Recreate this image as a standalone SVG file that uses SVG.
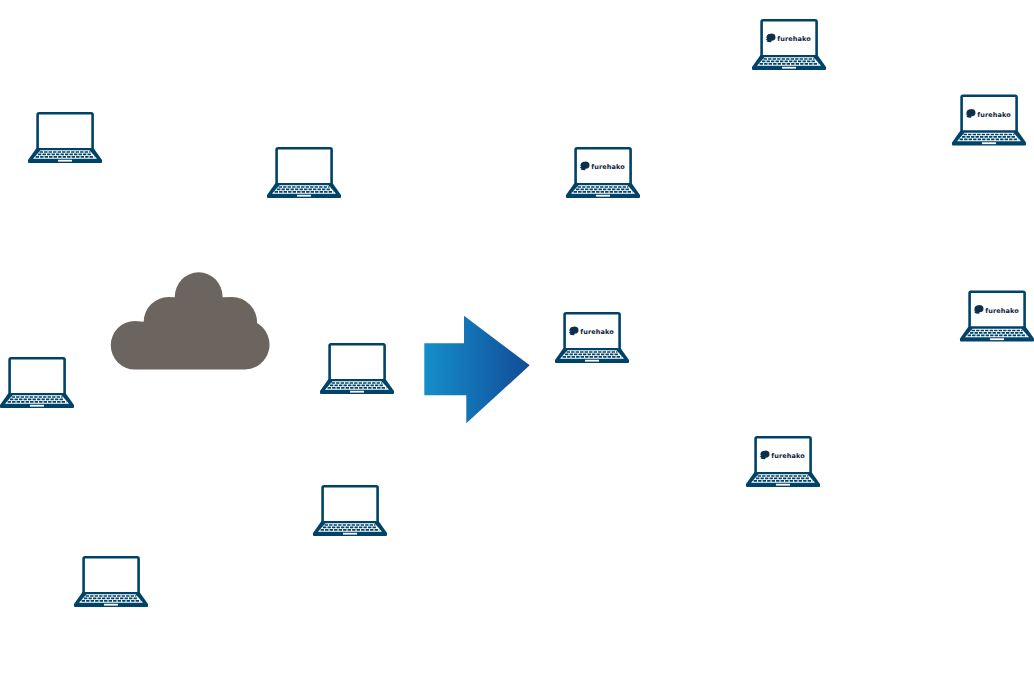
<svg xmlns="http://www.w3.org/2000/svg" width="1034" height="684" viewBox="0 0 1034 684">
<style>
.scr{fill:#fff;stroke:#004368;stroke-width:2.6}
.base{fill:#004368}
.kbd{fill:#fff}
.key{fill:none;stroke:#004368;stroke-width:1.600;stroke-dasharray:3.400 1.100}
.pad{fill:#fff}
.brand{font-family:"DejaVu Sans","Liberation Sans",sans-serif;font-weight:700;font-size:6.500px;fill:#0c2340}
.bub{fill:#0c2f4f}
</style>
<defs>
<linearGradient id="g" x1="0" y1="0" x2="1" y2="0"><stop offset="0" stop-color="#148fca"/><stop offset="1" stop-color="#134b97"/></linearGradient>
<g id="laptop">
<rect class="scr" x="9.600" y="1.300" width="55" height="36" rx="1.500"/>
<path class="base" d="M8.500 36H65.500L74 48V50Q74 51 73 51H1Q0 51 0 50V48Z"/>
<path class="kbd" d="M12.500 38.300H61.500L69 46.800H5Z"/>
<path class="key" d="M11.600 40H62.400M10 42.400H64M7.600 44.900H66.400"/>
<rect class="pad" x="30" y="47.800" width="14" height="1.800"/>
</g>
<g id="logo">
<path class="bub" d="M14.500 18.300a4.500 3.600 0 1 1 5 3.500l-.3 1.500-3.200-.3-1.700-1 1.200-.7-2-1 1.800-.5-1-.8z"/>
<text class="brand" x="25.300" y="22" textLength="33.400" lengthAdjust="spacing">furehako</text>
</g>
</defs>
<g id="connectors"/>
<g id="cloud"><path fill="#6c645e" d="M135 369.500A24.200 24.200 0 0 1 135 321L143.700 321.800A25 25 0 0 1 168.500 297L174.700 297.300A24 25 0 0 1 222.700 297.300L232 297A25 25 0 0 1 257 323A24.900 24.900 0 0 1 245 369.500Z"/></g>
<g id="arrow"><path fill="url(#g)" d="M424.300 343.300H464V315.700L529.700 365.300 466.300 423.300V395.300H424.300Z"/></g>
<g id="pc1"><use href="#laptop" x="28" y="112"/></g>
<g id="pc2"><use href="#laptop" x="267" y="147"/></g>
<g id="pc3"><use href="#laptop" x="0" y="357"/></g>
<g id="pc4"><use href="#laptop" x="320" y="343"/></g>
<g id="pc5"><use href="#laptop" x="313" y="485"/></g>
<g id="pc6"><use href="#laptop" x="74" y="556"/></g>
<g id="fh1"><use href="#laptop" x="566" y="147"/><use href="#logo" x="566" y="147"/></g>
<g id="fh2"><use href="#laptop" x="555" y="312"/><use href="#logo" x="555" y="312"/></g>
<g id="fh3"><use href="#laptop" x="752" y="19"/><use href="#logo" x="752" y="19"/></g>
<g id="fh4"><use href="#laptop" x="952" y="94.500"/><use href="#logo" x="952" y="94.500"/></g>
<g id="fh5"><use href="#laptop" x="960" y="290.500"/><use href="#logo" x="960" y="290.500"/></g>
<g id="fh6"><use href="#laptop" x="746" y="436"/><use href="#logo" x="746" y="436"/></g>
</svg>
